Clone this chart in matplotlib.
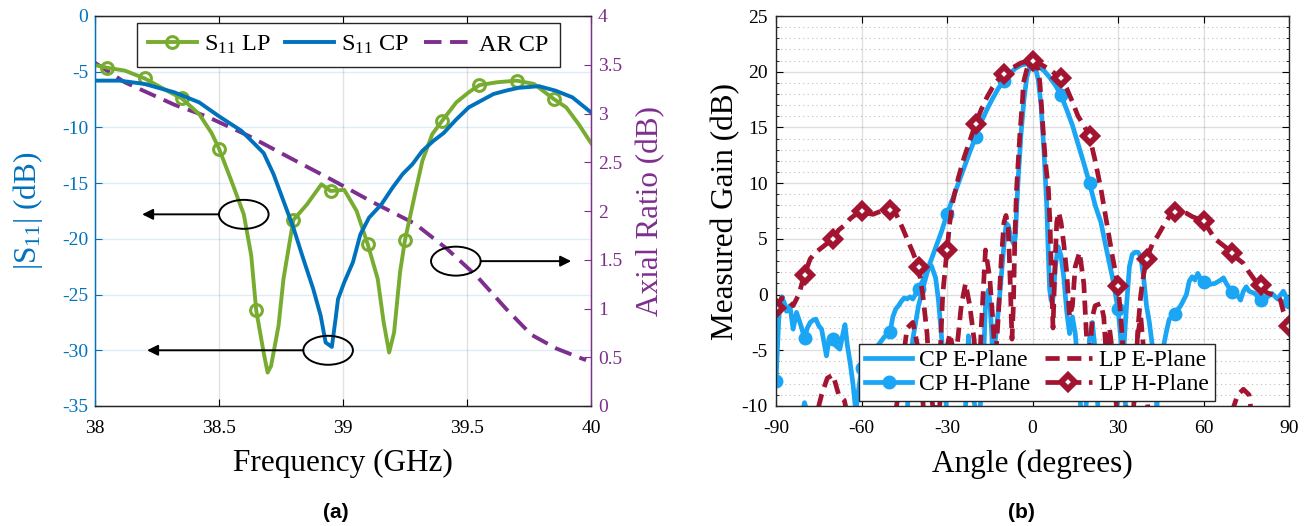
"""
Reflection coefficient / axial ratio (a) and measured gain patterns (b)
"""
import numpy as np
import matplotlib
matplotlib.use('Agg')
import matplotlib.pyplot as plt
from matplotlib.patches import Ellipse
from matplotlib.ticker import MultipleLocator

plt.rcParams['font.family'] = ['Liberation Serif', 'DejaVu Serif']
plt.rcParams['mathtext.fontset'] = 'custom'
plt.rcParams['mathtext.rm'] = 'Liberation Serif'
plt.rcParams['mathtext.it'] = 'Liberation Serif:italic'
plt.rcParams['axes.unicode_minus'] = False

# ---- (a) S11 and AR vs frequency ----
f_lp = [38.0, 38.05, 38.12, 38.2, 38.29, 38.35, 38.42, 38.47, 38.5, 38.55, 38.6, 38.63,
        38.65, 38.68, 38.696, 38.71, 38.74, 38.76, 38.79, 38.8, 38.855, 38.913, 38.95,
        39.005, 39.055, 39.1, 39.14, 39.164, 39.186, 39.206, 39.23, 39.25, 39.29, 39.32,
        39.36, 39.4, 39.457, 39.507, 39.55, 39.62, 39.7, 39.77, 39.85, 39.9, 39.95, 40.0]
s11_lp = [-4.4, -4.65, -4.9, -5.6, -6.7, -7.4, -8.8, -10.5, -11.9, -14.8, -17.8, -21.5,
          -26.4, -30.2, -32.0, -31.4, -27.8, -23.6, -19.6, -18.3, -16.9, -15.1, -15.7,
          -15.6, -17.5, -20.5, -23.6, -27.5, -30.2, -28.4, -23.0, -20.1, -16.0, -13.0,
          -10.6, -9.4, -7.75, -6.85, -6.2, -5.95, -5.8, -6.1, -7.45, -8.2, -9.7, -11.4]
f_lp_mark = [38.05, 38.2, 38.35, 38.5, 38.65, 38.8, 38.95, 39.1, 39.25, 39.4, 39.55, 39.7, 39.85]

f_cp = [38.0, 38.1, 38.2, 38.32, 38.42, 38.5, 38.59, 38.64, 38.68, 38.72, 38.76, 38.8,
        38.84, 38.88, 38.91, 38.93, 38.955, 38.97, 38.98, 39.005, 39.04, 39.07, 39.105,
        39.155, 39.2, 39.24, 39.28, 39.32, 39.365, 39.406, 39.456, 39.507, 39.557, 39.607,
        39.657, 39.707, 39.79, 39.857, 39.925, 40.0]
s11_cp = [-5.8, -5.8, -6.1, -6.85, -7.75, -9.0, -10.3, -11.4, -12.3, -14.2, -16.6, -19.0,
          -21.8, -24.5, -26.9, -29.3, -29.7, -27.2, -25.4, -23.9, -22.1, -19.6, -18.1,
          -16.9, -15.4, -14.2, -13.3, -12.1, -11.2, -10.5, -9.3, -8.2, -7.6, -7.0,
          -6.7, -6.45, -6.3, -6.7, -7.3, -8.65]

f_ar = [38.0, 38.12, 38.32, 38.45, 38.62, 38.79, 38.955, 39.12, 39.29, 39.42, 39.54,
        39.66, 39.76, 39.86, 39.98]
ar_cp = [3.52, 3.32, 3.09, 2.97, 2.77, 2.54, 2.32, 2.09, 1.87, 1.61, 1.33, 0.99, 0.73, 0.59, 0.47]

# ---- (b) gain patterns ----
ang_cpe = [-90, -84, -81, -80, -79, -76, -70, -66, -60, -55, -50, -46, -44, -43, -42, -41, -40,
           -38, -36.5, -35.5, -34, -33, -32, -31, -30, -27, -24, -23, -22.5, -22, -21, -19,
           -17.5, -16.5, -15.5, -15, -14.3, -13.7, -13, -12, -11, -10, -9.2, -8.5, -7.5, -6.5,
           -6, -5.5, -5, -4, -3, -2, -1, 0, 1, 2, 3, 4, 5, 5.5, 6, 6.5, 7, 7.5, 8, 9, 10, 11,
           12, 13, 14, 15, 16, 17, 18, 19, 20, 21, 22, 23, 26, 29, 31, 32, 33, 34, 35, 36, 37,
           38, 39, 40, 41, 42, 43, 44, 48, 60, 70, 80, 90]
g_cpe = [-14, -13, -11, -9.7, -10.6, -13, -14, -12, -14, -12, -13, -12, -10.5, -7, -4, -2.5, -1.0,
         1.0, 2.4, 2.6, 1.5, -0.5, -3.5, -7, -11, -13, -12, -8, -3.7, -5, -9, -11.5,
         -8, -1, 0.4, -0.5, -3.5, -8, -4, -1.5, 1.5, 4.5, 6.4, 6.2, 5.0, 4.5,
         5.2, 8.0, 10.5, 14.5, 17.5, 19.5, 20.4, 20.8, 20.4, 19.3, 17.0, 13.0, 8.0, 4.0, 0.5, -0.5,
         -0.7, 0.5, 2.5, 4.3, 3.5, 1.5, -1.5, -3.5, -2.0, -3.5, -6.5, -10.5, -11.5, -9.5, -4.0,
         -2.5, -5.0, -10.5, -12, -11, -8, -5, -1, 2.5, 3.6, 3.8, 3.8, 3.4, 1.5, -1.0, -2.5,
         -4.5, -7, -11, -13, -14, -13, -13, -14]

ang_cph = [-90, -89, -88, -87, -86.3, -85.1, -84, -82.8, -82, -81, -80, -79, -78, -77, -76, -75,
           -74, -73, -72.3, -71.5, -70, -69, -67.6, -66.5, -65.8, -65, -64, -63, -62, -61, -60,
           -58, -56, -55, -54, -52, -50, -49, -48, -47, -46, -45, -44, -43, -42, -40, -38, -36,
           -34, -32, -30, -28, -26, -24, -22, -20, -18, -16, -14, -12, -10, -8, -6, -4, -2, 0,
           2, 4, 6, 8, 10, 12, 14, 16, 18, 20, 22, 24, 26, 28, 30, 31, 32, 33, 36, 40, 43, 44,
           45, 46, 47, 48, 50, 52, 54, 55, 56, 57, 58, 59, 60, 62, 64, 66, 67, 68, 70, 72, 73,
           74, 75, 76, 78, 80, 82, 84, 86, 88, 90]
g_cph = [-7.8, -2.0, -0.2, -0.8, -1.5, -1.0, -3.1, -1.6, -2.2, -3.0, -3.9, -3.0, -2.5, -2.3, -2.2,
         -2.8, -3.1, -4.5, -5.5, -4.2, -4.0, -4.6, -4.9, -3.5, -2.7, -4.5, -6.1, -8.0, -10.5, -8.5,
         -6.6, -6.4, -5.0, -4.7, -4.5, -3.8, -3.4, -2.0, -1.3, -1.0, -0.6, -0.3, -0.4, -0.2, -0.4,
         0.5, 1.5, 2.8, 4.2, 5.6, 7.2, 8.6, 10.0, 11.4, 12.8, 14.1, 15.5, 16.6, 17.6, 18.5, 19.2,
         19.8, 20.3, 20.6, 20.7, 20.7, 20.5, 20.1, 19.5, 18.8, 17.9, 16.6, 15.2, 13.5, 11.8, 10.0,
         8.0, 6.5, 4.0, 1.6, -1.3, -4.0, -8.0, -11, -14, -13, -11, -9, -6, -4.6, -3.3, -2.2, -1.7,
         -1.0, 0.0, 1.2, 1.6, 1.3, 1.9, 1.4, 1.1, 0.9, 1.0, 1.3, 1.5, 1.0, 0.2, -0.1, -0.5, 0.3,
         0.7, 0.3, 0.1, -0.5, -0.3, 0.1, -0.4, 0.3, -0.7]

ang_lpe = [-90, -80, -76, -74, -72, -70, -68, -66, -64, -58, -50, -46, -44, -42, -40, -38, -36,
           -33, -31, -29, -27, -25, -23.5, -22, -20.5, -19, -18, -16.5, -15, -14, -13, -12, -11,
           -10, -9.3, -8.5, -7.8, -7.2, -6.7, -6.2, -5.6, -5, -4.4, -3.5, -3.2, -2, -1, 0, 1, 2,
           2.6, 3.8, 4.5, 5.6, 6.2, 6.7, 7.2, 7.8, 8.5, 9.2, 10, 11, 12, 13, 14, 15, 16.5, 18,
           19, 20, 21, 22, 24, 25, 26, 27, 28, 30, 34, 36, 37, 38, 39, 41, 44, 60, 68, 70, 72,
           74, 76, 77, 80, 90]
g_lpe = [-14, -13, -11, -9.0, -7.5, -7.2, -9.0, -9.5, -12, -15, -14, -7, -3, -2.5, -5, -11, -13,
         -11, -6, -3.5, -6, -1, 1.0, -1, -4, -9, -3, 4.0, 1.5, -2, -6, -2, 3,
         6.5, 7.1, 6, 1, -4, -1, 5, 9.4, 12, 14.5, 17.5, 19, 20.2, 20.8, 21.0, 20.8, 20.2,
         19, 14.5, 12, 9.4, 6, 1, -3, 2, 6.5, 7.4, 6.5, 4.5, 2, -2, -1, 2.5, 3.8, 1,
         -4, -6, -2, -1, -0.8, -2, -6, -3, -5, -12, -13, -9, -3.5, -2, -5, -12, -14, -15, -12, -10.5, -9,
         -8.5, -9, -11, -13, -14]

ang_lph = [-90, -88, -86, -84, -82, -80, -78, -76, -74, -72, -70, -68, -66, -64, -62, -60, -58,
           -56, -54, -52, -50, -48, -46, -44, -42, -40, -38.5, -37, -36, -34, -32.5, -31.5, -30,
           -29, -28, -26, -24, -22, -20, -18, -16, -14, -12, -10, -8, -6, -4, -2, 0, 2, 4, 6, 8,
           10, 12, 14, 16, 18, 20, 22, 24, 26, 28, 30, 31, 32, 33, 35, 36, 37, 38, 39, 40, 42,
           44, 46, 48, 50, 52, 54, 56, 58, 60, 62, 64, 66, 68, 70, 72, 74, 76, 78, 80, 82, 84,
           86, 87, 88, 90]
g_lph = [-1.2, -0.3, -0.5, -1.0, 0.0, 1.8, 3.2, 3.8, 4.2, 4.6, 5.0, 5.8, 6.2, 6.8, 7.2, 7.5, 7.3,
         7.2, 7.4, 7.6, 7.6, 7.3, 6.2, 5.0, 3.8, 2.5, 0.0, -3.5, -8, -12, -6, 0.0, 4.0,
         6.5, 8.3, 10.5, 12.3, 13.8, 15.3, 16.6, 17.7, 18.6, 19.3, 19.8, 20.2, 20.5, 20.8, 20.9,
         21.0, 20.8, 20.5, 20.2, 19.8, 19.4, 18.5, 17.3, 16.0, 15.2, 14.2, 12.0, 9.5, 6.5, 3.5,
         0.8, -2, -6, -11, -12, -8, -3, 0.0, 1.8, 3.2, 4.5, 5.3, 6.2, 7.0, 7.4, 7.5, 7.3, 7.0,
         6.8, 6.6, 5.8, 5.0, 4.6, 4.2, 3.7, 3.2, 2.8, 2.0, 1.3, 0.9, 0.2, 0.0, -0.2, -0.5, -1.5, -2.8]

BLUE = '#0072BD'
GREEN = '#77AC30'
PURPLE = '#7E2F8E'
LBLUE = '#1AA5F5'
DRED = '#A2142F'
AXC = '#262626'

fig = plt.figure(figsize=(13.11, 5.26), dpi=100)
ax1 = fig.add_axes([95/1311, 1-406/526, 496/1311, 390/526])
ax2 = ax1.twinx()
ax1.set_zorder(ax2.get_zorder() + 1)
ax1.patch.set_visible(False)

mk_lp = [i for i, f in enumerate(f_lp) if any(abs(f - m) < 0.006 for m in f_lp_mark)]
l1, = ax1.plot(f_lp, s11_lp, color=GREEN, lw=2.8, marker='o', ms=8.5, mfc='none', mew=2.2,
               markevery=mk_lp, label=r'S$_{11}$ LP')
l2, = ax1.plot(f_cp, s11_cp, color=BLUE, lw=2.8, label=r'S$_{11}$ CP')
l3, = ax2.plot(f_ar, ar_cp, color=PURPLE, lw=2.8, dashes=(4.5, 2.2), label='AR CP')

ax1.set_xlim(38, 40)
ax1.set_ylim(-35, 0)
ax2.set_ylim(0, 4)
ax1.set_xticks([38, 38.5, 39, 39.5, 40])
ax1.set_xticklabels(['38', '38.5', '39', '39.5', '40'])
ax1.set_yticks(np.arange(-35, 1, 5))
ax2.set_yticks(np.arange(0, 4.01, 0.5))
ax2.set_yticklabels(['0', '0.5', '1', '1.5', '2', '2.5', '3', '3.5', '4'])

ax1.grid(axis='y', color=BLUE, alpha=0.13, lw=1)
ax1.grid(axis='x', color=AXC, alpha=0.13, lw=1)

ax1.tick_params(axis='x', direction='in', top=True, labelsize=14, colors='black', length=5, pad=10)
ax1.tick_params(axis='y', direction='in', labelsize=14, colors=BLUE, length=5, pad=5)
ax2.tick_params(axis='y', direction='in', labelsize=14, colors=PURPLE, length=5, pad=5)
for sp in ['top', 'bottom']:
    ax1.spines[sp].set_color(AXC)
    ax2.spines[sp].set_color(AXC)
ax1.spines['left'].set_color(BLUE)
ax2.spines['left'].set_color(BLUE)
ax1.spines['right'].set_color(PURPLE)
ax2.spines['right'].set_color(PURPLE)
for sp in ax1.spines.values():
    sp.set_linewidth(1.0)

ax1.set_xlabel('Frequency (GHz)', fontsize=22.5, labelpad=9)
ax1.set_ylabel(r'|S$_{11}$| (dB)', fontsize=22.5, color=BLUE, labelpad=12)
ax2.set_ylabel('Axial Ratio (dB)', fontsize=22.5, color=PURPLE, labelpad=10)

leg = ax1.legend(handles=[l1, l2, l3], loc='upper center', bbox_to_anchor=(0.511, 0.982),
                 ncol=3, fontsize=17.5, handlelength=2.0, handletextpad=0.3,
                 columnspacing=0.6, borderpad=0.45, fancybox=False, framealpha=1,
                 edgecolor=AXC, borderaxespad=0)
leg.get_frame().set_linewidth(1.0)

# ellipse + arrow annotations
ell = [(38.60, -17.8, 38.19), (38.94, -30.0, 38.21), (39.455, -22.0, 39.92)]
for cx, cy, tip in ell:
    ax1.add_patch(Ellipse((cx, cy), 0.20, 2.6, fill=False, ec='black', lw=1.4, zorder=5))
    start = cx - 0.10 if tip < cx else cx + 0.10
    ax1.annotate('', xy=(tip, cy), xytext=(start, cy),
                 arrowprops=dict(arrowstyle='-|>', color='black', lw=1.4, mutation_scale=16,
                                 shrinkA=0, shrinkB=0), zorder=5)

# ---- panel (b) ----
ax3 = fig.add_axes([776/1311, 1-406/526, 513/1311, 390/526])
ax3.set_axisbelow(True)
mk_cph = [i for i, a in enumerate(ang_cph) if a % 10 == 0]
mk_lph = [i for i, a in enumerate(ang_lph) if a % 10 == 0]
ax3.plot(ang_cpe, g_cpe, color=LBLUE, lw=3.4, label='CP E-Plane')
ax3.plot(ang_cph, g_cph, color=LBLUE, lw=3.4, marker='o', ms=8, mfc=LBLUE, mew=2,
         markevery=mk_cph, label='CP H-Plane')
ax3.plot(ang_lpe, g_lpe, color=DRED, lw=3.4, dashes=(3, 1.6), label='LP E-Plane')
ax3.plot(ang_lph, g_lph, color=DRED, lw=3.4, dashes=(3, 1.6), marker='D', ms=7.5, mfc='white',
         mew=4.2, markevery=mk_lph, label='LP H-Plane')

ax3.set_xlim(-90, 90)
ax3.set_ylim(-10, 25)
ax3.set_xticks(np.arange(-90, 91, 30))
ax3.set_yticks(np.arange(-10, 26, 5))
ax3.yaxis.set_minor_locator(MultipleLocator(1))
ax3.grid(which='major', color=AXC, alpha=0.15, lw=1)
ax3.grid(which='minor', axis='y', color=AXC, alpha=0.3, lw=0.8, ls=(0, (1, 3)))
ax3.tick_params(which='both', direction='in', top=True, right=True, labelsize=14)
ax3.tick_params(which='major', length=5, pad=10)
ax3.tick_params(axis='y', which='major', pad=6)
ax3.tick_params(which='minor', length=2.5)
for sp in ax3.spines.values():
    sp.set_color(AXC)
    sp.set_linewidth(1.0)
ax3.set_xlabel('Angle (degrees)', fontsize=22.5, labelpad=9)
ax3.set_ylabel('Measured Gain (dB)', fontsize=22.5, labelpad=1)

leg2 = ax3.legend(loc='lower center', bbox_to_anchor=(0.509, 0.013), ncol=2, fontsize=17,
                  handlelength=2.0, handletextpad=0.3, columnspacing=0.6, borderpad=0.25,
                  labelspacing=0.1, fancybox=False, framealpha=1, edgecolor=AXC,
                  borderaxespad=0)
leg2.get_frame().set_linewidth(1.0)

fig.text(336/1311, 1-513/526, '(a)', fontsize=15, fontweight='bold',
         family='Liberation Sans', ha='center', va='center')
fig.text(1021/1311, 1-513/526, '(b)', fontsize=15, fontweight='bold',
         family='Liberation Sans', ha='center', va='center')

fig.savefig('out.png', dpi=100)
